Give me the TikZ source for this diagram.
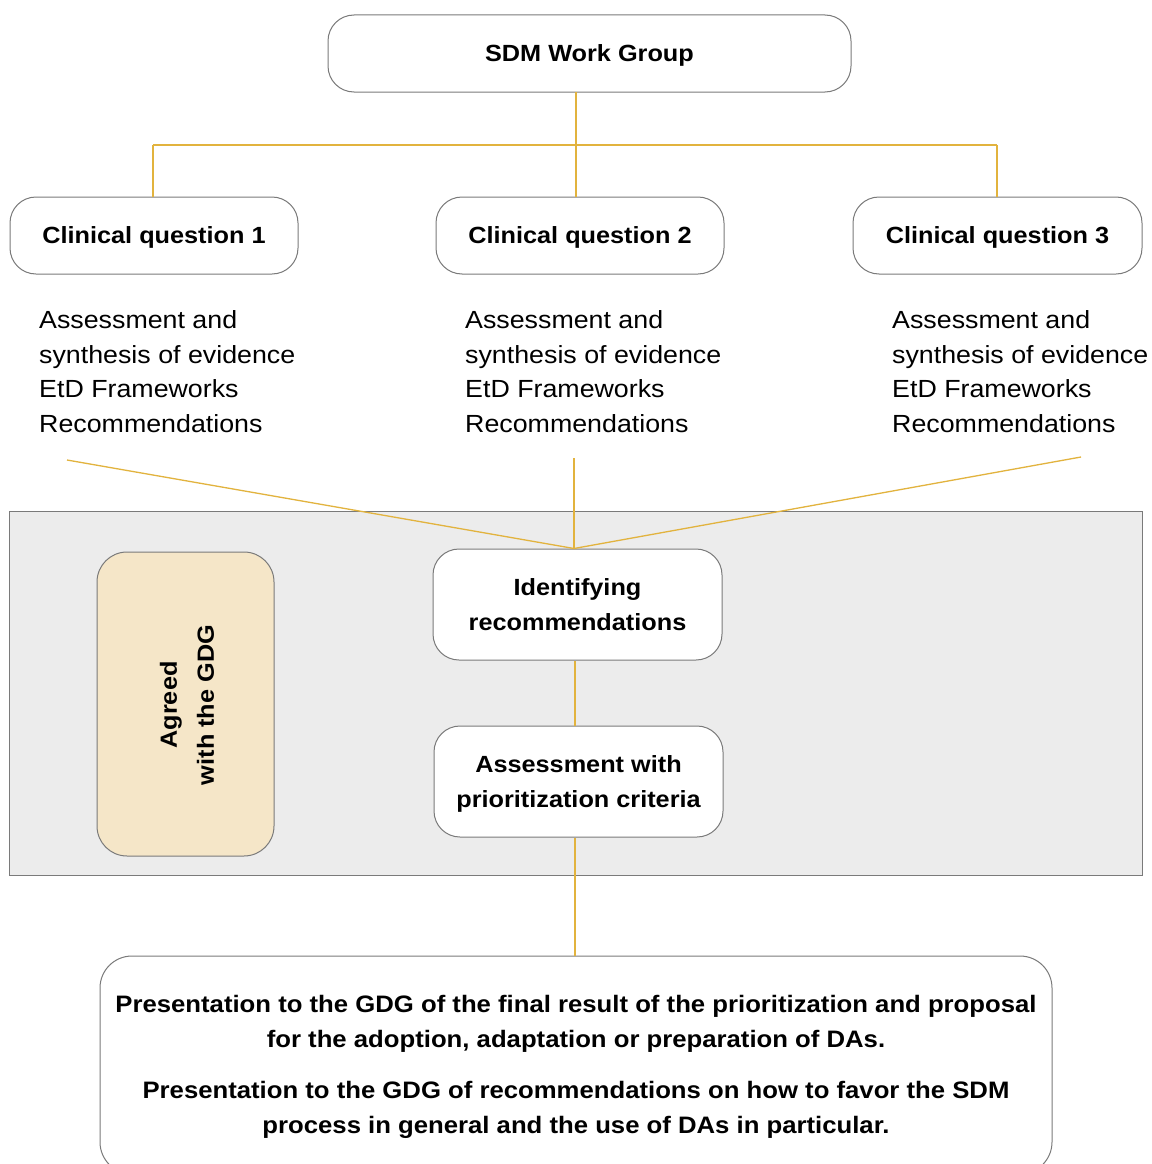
\documentclass[tikz,border=0pt]{standalone}
\usepackage{fontspec}
\setmainfont{Liberation Sans}[FakeStretch=1.08]
\definecolor{gold}{HTML}{E2B33E}
\definecolor{boxline}{HTML}{7A7A7A}
\definecolor{panel}{HTML}{ECECEC}
\definecolor{wheat}{HTML}{F5E6C8}
\begin{document}
\begin{tikzpicture}[x=1pt,y=-1pt,
  box/.style={draw=boxline, line width=1pt, fill=white, rounded corners=26pt, inner sep=0pt,
    font=\bfseries\fontsize{23.4}{35}\selectfont, align=center, text depth=0pt},
  conn/.style={draw=gold, line width=1.3pt},
  body/.style={font=\fontsize{24.8}{34.7}\selectfont, align=left, anchor=west, inner sep=0pt}]
\useasboundingbox (0,0) rectangle (1151,1164);
\clip (0,0) rectangle (1151,1164);
\fill[white] (0,0) rectangle (1151,1164);

% grey panel
\draw[draw=boxline, line width=0.8pt, fill=panel] (9,511) rectangle (1142,875);

% top
\node[box, minimum width=523pt, minimum height=77pt] (sdm) at (589.5,53.5) {SDM Work Group};
\node[box, minimum width=288pt, minimum height=77pt] (cq1) at (154,235.5) {Clinical question 1};
\node[box, minimum width=288pt, minimum height=77pt] (cq2) at (580,235.5) {Clinical question 2};
\node[box, minimum width=289pt, minimum height=77pt] (cq3) at (997.5,235.5) {Clinical question 3};

\coordinate (sdmb) at (576,92);
\coordinate (hl) at (153,145);
\coordinate (hm) at (576,145);
\coordinate (hr) at (997,145);
\draw[conn] (sdmb) -- (hm);
\draw[conn] (hl) -- (hr);
\draw[conn] (hl) -- (hl |- cq1.north);
\draw[conn] (hm) -- (hm |- cq2.north);
\draw[conn] (hr) -- (hr |- cq3.north);

% body texts
\node[body] (t1) at (39,371.5) {Assessment and\\synthesis of evidence\\EtD Frameworks\\Recommendations};
\node[body] (t2) at (465,371.5) {Assessment and\\synthesis of evidence\\EtD Frameworks\\Recommendations};
\node[body] (t3) at (892,371.5) {Assessment and\\synthesis of evidence\\EtD Frameworks\\Recommendations};

% middle boxes
\node[box, minimum width=289pt, minimum height=111pt] (idr) at (577.5,604.5) {Identifying\\recommendations};
\node[box, minimum width=289pt, minimum height=111pt] (apc) at (578.5,781.5) {Assessment with\\prioritization criteria};

\node[draw=boxline, line width=1pt, fill=wheat, rounded corners=30pt, minimum width=177pt, minimum height=304pt, inner sep=0pt] (agr) at (185.5,704) {};
\node[rotate=90, align=center, font=\bfseries\fontsize{23.4}{37}\selectfont, inner sep=0pt] (agrt) at (187,705) {Agreed\\with the GDG};

% convergence
\coordinate (c1) at (67,460);
\coordinate (c2) at (574,458);
\coordinate (c3) at (1081,457);
\coordinate (ctop) at (574,548.5);
\draw[conn] (c1) -- (ctop);
\draw[conn] (c2) -- (ctop);
\draw[conn] (c3) -- (ctop);

\coordinate (m1) at (575,661);
\coordinate (m2) at (575,726);
\draw[conn] (m1) -- (m2);

% final box
\node[box, rounded corners=32pt, minimum width=952pt, minimum height=218pt] (fin) at (576,1065) {};
\node[align=center, inner sep=0pt, font=\bfseries\fontsize{23.8}{35}\selectfont] (fint) at (576,1066.5)
 {Presentation to the GDG of the final result of the prioritization and proposal\\
  for the adoption, adaptation or preparation of DAs.\\[16pt]
  Presentation to the GDG of recommendations on how to favor the SDM\\
  process in general and the use of DAs in particular.};
\coordinate (b1) at (575,838);
\coordinate (b2) at (575,956);
\draw[conn] (b1) -- (b2);
\end{tikzpicture}
\end{document}
